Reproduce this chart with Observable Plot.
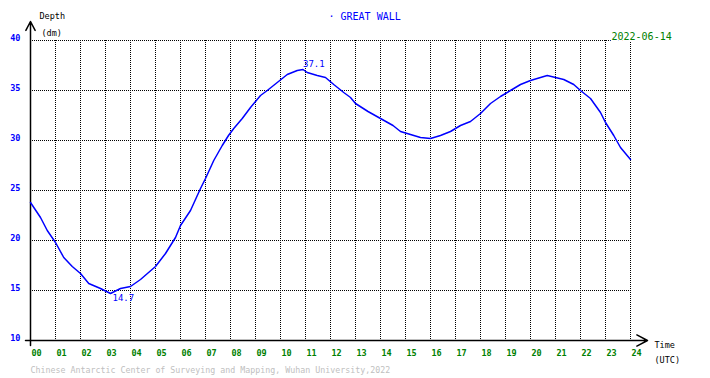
<!DOCTYPE html>
<html><head><meta charset="utf-8">
<script src="https://cdn.jsdelivr.net/npm/d3@7"></script>
<script src="https://cdn.jsdelivr.net/npm/@observablehq/plot@0.6"></script>
<style>html,body{margin:0;padding:0;background:#fff} #chart svg{display:block}</style>
</head><body><div id="chart"></div>
<script>
// Time of day (UTC hours) and tide depth (dm)
const hours = [0, 0.4, 0.67, 1.0, 1.33, 1.67, 2.0, 2.33, 2.8, 3.2, 3.6, 4.0, 4.4, 5.0, 5.4, 5.8, 6.0, 6.4, 6.8, 7.0,
  7.33, 7.67, 7.92, 8.13, 8.47, 8.8, 9.2, 9.47, 9.87, 10.27, 10.67, 10.9, 11.07, 11.47, 11.8, 12.13, 12.53, 12.8,
  13.0, 13.5, 14.0, 14.5, 14.8, 15.2, 15.6, 16.0, 16.4, 16.8, 17.2, 17.6, 18.0, 18.4, 18.8, 19.2, 19.6, 20.0,
  20.4, 20.67, 21.0, 21.33, 21.73, 22.0, 22.4, 22.8, 23.0, 23.33, 23.6, 24.0];
const depth = [23.8, 22.3, 21.0, 19.8, 18.3, 17.4, 16.7, 15.7, 15.2, 14.7, 15.2, 15.4, 16.1, 17.4, 18.7, 20.3, 21.5, 23.0, 25.2, 26.2,
  28.0, 29.5, 30.5, 31.2, 32.2, 33.3, 34.5, 35.0, 35.8, 36.6, 37.0, 37.1, 36.8, 36.5, 36.3, 35.6, 34.8, 34.3,
  33.7, 32.9, 32.2, 31.5, 30.9, 30.6, 30.3, 30.2, 30.5, 30.9, 31.5, 31.9, 32.7, 33.7, 34.4, 35.0, 35.6, 36.0,
  36.3, 36.5, 36.3, 36.1, 35.6, 35.0, 34.2, 32.8, 31.8, 30.5, 29.3, 28.1];
const xTicks = d3.range(0, 25);
const yTicks = [10, 15, 20, 25, 30, 35, 40];
const station = "GREAT WALL";
const dateLabel = "2022-06-14";
const yLabel = ["Depth", "(dm)"];
const xLabel = ["Time", "(UTC)"];
const credit = "Chinese Antarctic Center of Surveying and Mapping, Wuhan University,2022";

const data = hours.map((h, i) => ({h, v: depth[i]}));
const iMin = d3.minIndex(depth), iMax = d3.maxIndex(depth);

const blue = "#0000ff", green = "#008000";

const chart = Plot.plot({
  width: 710, height: 378,
  marginLeft: 30, marginRight: 80, marginTop: 40, marginBottom: 38,
  x: {domain: [0, 24]},
  y: {domain: [10, 40]},
  style: {fontFamily: "DejaVu Sans Mono", fontSize: "8.5px", background: "#fff", color: "#000", overflow: "visible"},
  marks: [
    Plot.ruleY(yTicks.filter(d => d > 10), {stroke: "#000", strokeDasharray: "1,1"}),
    Plot.ruleX(xTicks.filter(d => d > 0), {stroke: "#000", strokeDasharray: "1,1"}),
    Plot.axisX(xTicks, {tickSize: 0, tickPadding: 9, textAnchor: "start", dx: 1, fill: green, fontWeight: "bold",
      tickFormat: d => String(d).padStart(2, "0"), label: null}),
    Plot.axisY(yTicks, {tickSize: 0, tickPadding: 10, fill: blue, fontWeight: "bold", dy: -2, label: null}),
    // axes with open arrowheads
    Plot.arrow([0], {x1: () => -0.2, y1: () => 10, x2: () => 24.68, y2: () => 10,
      headLength: 12, headAngle: 55, stroke: "#000", strokeWidth: 1.5}),
    Plot.arrow([0], {x1: () => 0, y1: () => 9.5, x2: () => 0, y2: () => 41.9,
      headLength: 10, headAngle: 55, stroke: "#000", strokeWidth: 1.5}),
    Plot.line(data, {x: "h", y: "v", stroke: blue, strokeWidth: 1.5}),
    Plot.text([data[iMax]], {x: "h", y: "v", text: d => d.v.toFixed(1), textAnchor: "start", dy: -5, fill: blue, fontSize: 9}),
    Plot.text([data[iMin]], {x: "h", y: "v", text: d => d.v.toFixed(1), textAnchor: "start", dx: 2, dy: 5, fill: blue, fontSize: 9}),
    Plot.text([station], {frameAnchor: "top-left", text: d => "\u00b7 " + d, dx: 298, dy: -24, textAnchor: "start", lineAnchor: "middle", fill: blue, fontSize: 10}),
    Plot.text([dateLabel], {frameAnchor: "top-left", text: d => d, dx: 581, dy: -3.5, textAnchor: "start", lineAnchor: "middle", fill: green, fontSize: 10, stroke: "#fff", strokeWidth: 3}),
    Plot.text([yLabel[0]], {frameAnchor: "top-left", text: d => d, dx: 9, dy: -24, textAnchor: "start", lineAnchor: "middle", fill: "#000"}),
    Plot.text([yLabel[1]], {frameAnchor: "top-left", text: d => d, dx: 11, dy: -7, textAnchor: "start", lineAnchor: "middle", fill: "#000"}),
    Plot.text([xLabel[0]], {frameAnchor: "bottom-left", text: d => d, dx: 624, dy: 4.5, textAnchor: "start", lineAnchor: "middle", fill: "#000"}),
    Plot.text([xLabel[1]], {frameAnchor: "bottom-left", text: d => d, dx: 624, dy: 19.5, textAnchor: "start", lineAnchor: "middle", fill: "#000"}),
    Plot.text([credit], {frameAnchor: "bottom-left", text: d => d, dx: 0, dy: 30, textAnchor: "start", lineAnchor: "middle", fill: "#c0c0c0", fontSize: 8.3})
  ]
});
document.getElementById("chart").appendChild(chart);
</script>
</body></html>
